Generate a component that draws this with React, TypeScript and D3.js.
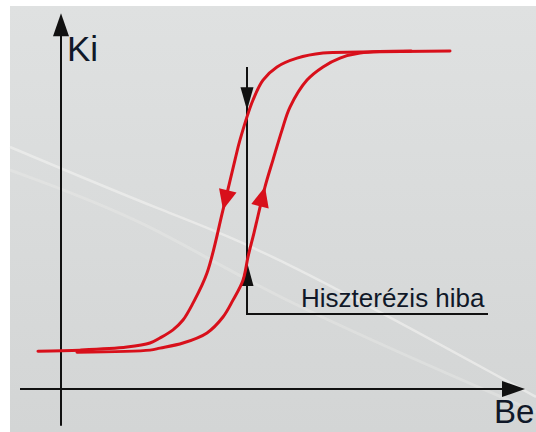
import React, { useEffect, useRef } from "react";
import * as d3 from "d3";

const W = 536;
const H = 432;

// descending branch (Be decreasing), values in % of the axes
const descBe = [97.25, 74.75, 65.5, 59, 54, 50.5, 48, 44.75, 43.5, 40.5, 36.5, 33, 30.5, 28, 24.75, 22.25, 16.5, 4.75, -5.75];
const descKi = [100.0, 99.7, 99.4, 97.9, 95.3, 91.4, 85.5, 73.7, 67.8, 53.0, 34.3, 25.4, 20.4, 17.5, 15.1, 13.6, 12.4, 11.5, 11.2];
// ascending branch (Be increasing)
const ascBe = [4, 22.25, 24.75, 30.5, 36.5, 40.5, 43, 45.5, 46.75, 48.25, 51, 53, 55.25, 57.25, 61.5, 65.5, 69.75, 74.75, 87.5];
const ascKi = [10.9, 11.5, 12.1, 13.6, 16.6, 21.3, 26.3, 32.2, 39.1, 46.2, 59.8, 67.8, 76.6, 83.4, 91.4, 95.3, 97.9, 99.4, 100.0];

// axis extents
const beAxis = [-10.25, 116];
const kiAxis = [-10.9, 111.2];
const axisLabels = ["Be", "Ki"];

// hysteresis error marker
const errBe = 46.5;
const errKi = [95.3, 22.2];
const errArrowKi = [82.5, 37.6];
const errRightBe = 106.75;
const errLabel = "Hiszterézis hiba";

// arrow heads on the branches (Ki level of the tip)
const descArrowKi = 53.0;
const ascArrowKi = 59.8;

const RED = "#d8101b";
const INK = "#111";

export default function App() {
  const ref = useRef<SVGSVGElement>(null);

  useEffect(() => {
    const svg = d3.select(ref.current);
    svg.selectAll("*").remove();

    const x = d3.scaleLinear().domain([0, 100]).range([61, 461]);
    const y = d3.scaleLinear().domain([0, 100]).range([389, 51]);

    const defs = svg.append("defs");
    const grad = defs.append("linearGradient").attr("id", "bg").attr("x1", 0).attr("y1", 0).attr("x2", 0).attr("y2", 1);
    grad.append("stop").attr("offset", "0%").attr("stop-color", "#dfe1e1");
    grad.append("stop").attr("offset", "100%").attr("stop-color", "#d3d5d5");

    svg.append("rect").attr("width", W).attr("height", H).attr("fill", "#ffffff");
    svg.append("rect").attr("x", 10).attr("y", 6).attr("width", W - 10).attr("height", H - 6).attr("fill", "url(#bg)");

    // faint reflection streaks of the photo
    const streak = d3.line().curve(d3.curveBasis);
    svg.append("path")
      .attr("d", streak([[10, 147], [167, 213], [268, 250], [536, 397]]))
      .attr("fill", "none").attr("stroke", "#f0f0ee").attr("stroke-width", 2.5).attr("opacity", 0.7);
    svg.append("path")
      .attr("d", streak([[10, 170], [150, 222], [268, 296], [536, 412]]))
      .attr("fill", "none").attr("stroke", "#eeeeec").attr("stroke-width", 3).attr("opacity", 0.35);

    const arrowHead = (g: any, tx: number, ty: number, dx: number, dy: number, L: number, w: number, fill: string) => {
      const n = Math.hypot(dx, dy);
      const ux = dx / n, uy = dy / n;
      const bx = tx - ux * L, by = ty - uy * L;
      const pts = [
        [tx, ty],
        [bx - uy * w, by + ux * w],
        [bx + uy * w, by - ux * w],
      ];
      g.append("path").attr("d", "M" + pts.map((p) => p.join(",")).join("L") + "Z").attr("fill", fill);
    };

    // axes
    svg.append("line").attr("x1", x(beAxis[0])).attr("x2", x(beAxis[1]) - 10).attr("y1", y(0)).attr("y2", y(0))
      .attr("stroke", INK).attr("stroke-width", 2);
    arrowHead(svg, x(beAxis[1]), y(0), 1, 0, 23, 8, INK);
    svg.append("line").attr("x1", x(0)).attr("x2", x(0)).attr("y1", y(kiAxis[0])).attr("y2", y(kiAxis[1]) + 10)
      .attr("stroke", INK).attr("stroke-width", 2);
    arrowHead(svg, x(0), y(kiAxis[1]), 0, -1, 23, 8, INK);

    svg.append("text").attr("x", 494).attr("y", 423).attr("font-family", "Liberation Sans, Arial, sans-serif")
      .attr("font-size", 33).attr("fill", "#101828").text(axisLabels[0]);
    svg.append("text").attr("x", 67).attr("y", 61).attr("font-family", "Liberation Sans, Arial, sans-serif")
      .attr("font-size", 35).attr("fill", "#101828").text(axisLabels[1]);

    // hysteresis error marker
    svg.append("path")
      .attr("d", `M${x(errBe)},${y(errKi[0])}V${y(errKi[1])}H${x(errRightBe)}`)
      .attr("fill", "none").attr("stroke", INK).attr("stroke-width", 2);
    arrowHead(svg, x(errBe), y(errArrowKi[0]), 0, 1, 23, 6.5, INK);
    arrowHead(svg, x(errBe), y(errArrowKi[1]), 0, -1, 24, 6.5, INK);
    svg.append("text").attr("x", 301).attr("y", 307).attr("font-family", "Liberation Sans, Arial, sans-serif")
      .attr("font-size", 26).attr("fill", "#101828").text(errLabel);

    // branches
    const line = d3.line<[number, number]>()
      .x((d) => x(d[0]))
      .y((d) => y(d[1]))
      .curve(d3.curveCatmullRom.alpha(0.5));

    const branches: [number[], number[], number][] = [
      [descBe, descKi, descArrowKi],
      [ascBe, ascKi, ascArrowKi],
    ];
    branches.forEach(([bx, by, arrowKi]) => {
      const pts = bx.map((v, i) => [v, by[i]] as [number, number]);
      const p = svg.append("path")
        .attr("d", line(pts))
        .attr("fill", "none").attr("stroke", RED).attr("stroke-width", 3)
        .attr("stroke-linejoin", "round").attr("stroke-linecap", "round");
      const node = p.node() as SVGPathElement;
      const total = node.getTotalLength();
      const targetY = y(arrowKi);
      let best = 0, bestD = Infinity;
      for (let l = 0; l <= total; l += 0.5) {
        const q = node.getPointAtLength(l);
        const d = Math.abs(q.y - targetY);
        if (d < bestD) { bestD = d; best = l; }
      }
      const a = node.getPointAtLength(Math.max(0, best - 6));
      const b = node.getPointAtLength(best);
      arrowHead(svg, b.x, b.y, b.x - a.x, b.y - a.y, 20, 9, RED);
    });
  }, []);

  return (
    <svg ref={ref} width={W} height={H} style={{ position: "absolute", left: 0, top: 0, display: "block" }} />
  );
}
